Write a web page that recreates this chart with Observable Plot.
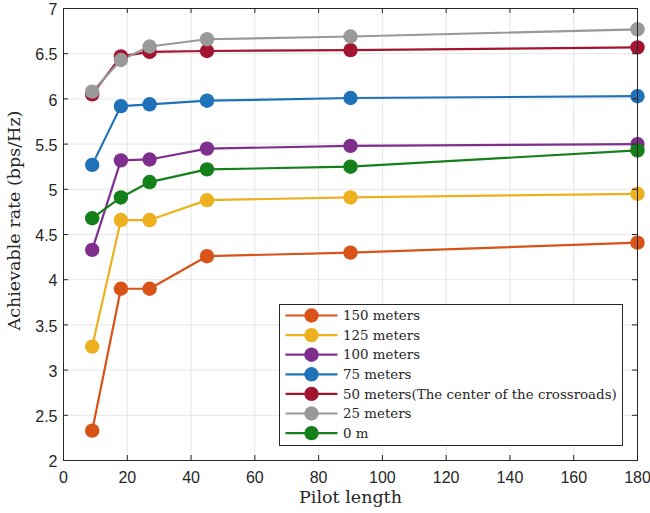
<!DOCTYPE html>
<html>
<head>
<meta charset="utf-8">
<script src="https://cdn.jsdelivr.net/npm/d3@7"></script>
<script src="https://cdn.jsdelivr.net/npm/@observablehq/plot@0.6"></script>
<style>
  html, body { margin: 0; padding: 0; background: #fff; }
  #chart svg { display: block; }
</style>
</head>
<body>
<div id="chart"></div>
<script>
const pilotLengths = [9, 18, 27, 45, 90, 180];
const seriesNames = ["150 meters", "125 meters", "100 meters", "75 meters",
  "50 meters(The center of the crossroads)", "25 meters", "0 m"];
const seriesColors = ["#d95319", "#edb120", "#7e2f8e", "#1f72b8", "#a2142f", "#999999", "#13801a"];
const rate150 = [2.33, 3.90, 3.90, 4.26, 4.30, 4.41];
const rate125 = [3.26, 4.66, 4.66, 4.88, 4.91, 4.95];
const rate100 = [4.33, 5.32, 5.33, 5.45, 5.48, 5.50];
const rate75  = [5.27, 5.92, 5.94, 5.98, 6.01, 6.03];
const rate50  = [6.05, 6.47, 6.52, 6.53, 6.54, 6.57];
const rate25  = [6.08, 6.43, 6.58, 6.66, 6.69, 6.77];
const rate0   = [4.68, 4.91, 5.08, 5.22, 5.25, 5.43];
const xTicks = [0, 20, 40, 60, 80, 100, 120, 140, 160, 180];
const yTicks = [2, 2.5, 3, 3.5, 4, 4.5, 5, 5.5, 6, 6.5, 7];

const allRates = [rate150, rate125, rate100, rate75, rate50, rate25, rate0];
const rows = [];
allRates.forEach((vals, i) => vals.forEach((v, j) => rows.push({series: seriesNames[i], x: pilotLengths[j], y: v})));

const W = 650, H = 513, mL = 63, mR = 13, mT = 8, mB = 53;
const pw = W - mL - mR, ph = H - mT - mB;
const tk = 5;
const serif = "'DejaVu Serif', serif";
const colorScale = {domain: seriesNames, range: seriesColors};

const chart = Plot.plot({
  width: W, height: H,
  marginLeft: mL, marginRight: mR, marginTop: mT, marginBottom: mB,
  style: {fontFamily: "Liberation Sans, Arial, sans-serif", fontSize: "16px", background: "#fff", color: "#262626"},
  x: {domain: [0, 180], ticks: xTicks, label: null},
  y: {domain: [2, 7], ticks: yTicks, label: null},
  color: colorScale,
  marks: [
    Plot.gridX(xTicks, {stroke: "#e6e6e6", strokeOpacity: 1, strokeWidth: 1}),
    Plot.gridY(yTicks, {stroke: "#e6e6e6", strokeOpacity: 1, strokeWidth: 1}),
    Plot.line(rows, {x: "x", y: "y", z: "series", stroke: "series", strokeWidth: 2.2}),
    Plot.dot(rows, {x: "x", y: "y", fill: "series", r: 7.2, stroke: "none"}),
    Plot.frame({stroke: "#262626", strokeWidth: 1}),
    Plot.tickX(xTicks, {x: d => d, insetTop: ph - tk, stroke: "#262626"}),
    Plot.tickX(xTicks, {x: d => d, insetBottom: ph - tk, stroke: "#262626"}),
    Plot.tickY(yTicks, {y: d => d, insetRight: pw - tk, stroke: "#262626"}),
    Plot.tickY(yTicks, {y: d => d, insetLeft: pw - tk, stroke: "#262626"}),
    Plot.axisX(xTicks, {tickSize: 0, tickPadding: 11, tickFormat: d => String(d), fill: "#262626", fontSize: 16}),
    Plot.axisY(yTicks, {tickSize: 0, tickPadding: 6, dy: 1.5, tickFormat: d => String(d), fill: "#262626", fontSize: 16}),
    Plot.text(["Pilot length"], {frameAnchor: "bottom", dy: 42, fontSize: 17.5, fontFamily: serif, fill: "#262626", text: d => d}),
    Plot.text(["Achievable rate (bps/Hz)"], {frameAnchor: "left", textAnchor: "middle", dx: -49, dy: -14, rotate: -90, fontSize: 17.5, fontFamily: serif, fill: "#262626", text: d => d})
  ]
});
document.getElementById("chart").appendChild(chart);

const svg = d3.select(chart);
svg.selectAll("text").filter(function() {
  const t = this.textContent;
  return t === "Pilot length" || t === "Achievable rate (bps/Hz)";
}).attr("font-family", serif).style("font-family", serif);

// Legend box (inside the plot area, bottom right)
const lg = svg.append("g").attr("transform", "translate(279.5,304.5)");
const lgW = 343, rowH = 19.6;
lg.append("rect").attr("width", lgW).attr("height", 141).attr("fill", "#fff").attr("stroke", "#262626").attr("stroke-width", 1);
seriesNames.forEach((name, i) => {
  const y = 11 + i * rowH;
  const g = lg.append("g").attr("transform", `translate(0,${y})`);
  g.append("line").attr("x1", 6).attr("x2", 58).attr("y1", 0).attr("y2", 0).attr("stroke", seriesColors[i]).attr("stroke-width", 2.2);
  g.append("circle").attr("cx", 32).attr("cy", 0).attr("r", 7.2).attr("fill", seriesColors[i]);
  g.append("text").attr("x", 63.5).attr("y", 0).attr("dy", "0.35em")
    .attr("text-anchor", "start")
    .attr("font-family", serif).style("font-family", serif).attr("font-size", 13.4).attr("fill", "#262626").text(name);
});
</script>
</body>
</html>
